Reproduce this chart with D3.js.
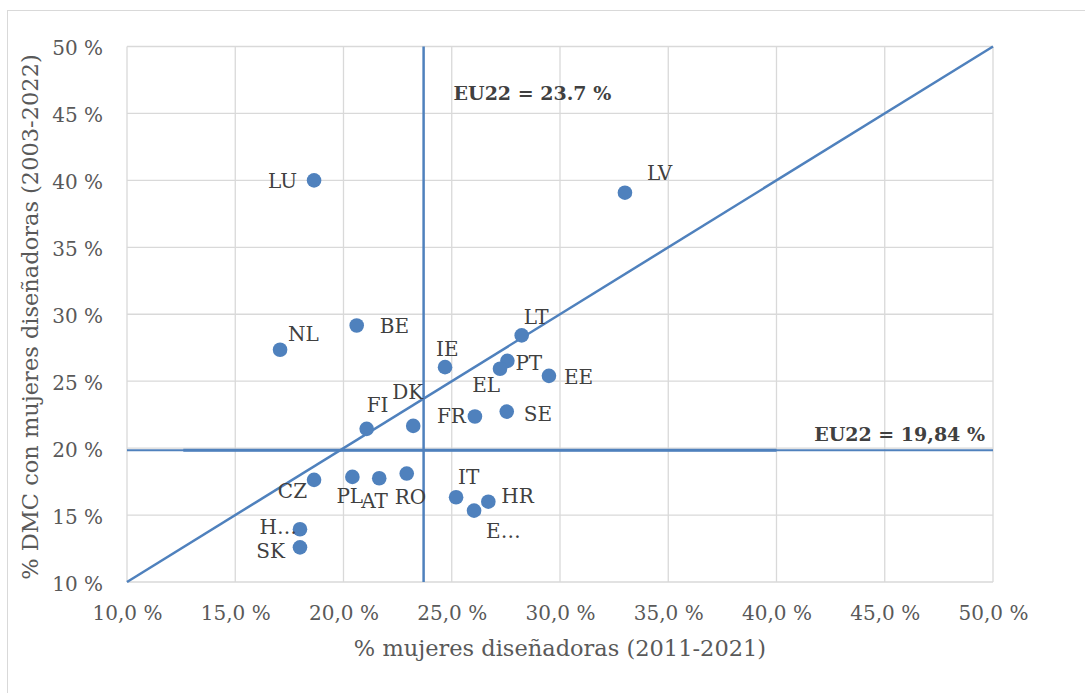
<!DOCTYPE html>
<html>
<head>
<meta charset="utf-8">
<script src="https://cdn.jsdelivr.net/npm/d3@7"></script>
<style>
  body { margin: 0; background: #fff; }
  text { font-family: "DejaVu Serif", serif; }
  .tick text { fill: #595959; font-size: 20px; }
  .lbl { fill: #404040; font-size: 20px; }
</style>
</head>
<body>
<svg id="chart" width="1085" height="693"></svg>
<script>
// data
var countries = ["LU", "LV", "NL", "BE", "IE", "FI", "DK", "FR", "LT", "PT", "EL", "EE", "SE",
                 "CZ", "PL", "AT", "RO", "IT", "HR", "E…", "H…", "SK"];
var womenDesigners = [18.64, 33.00, 17.07, 20.61, 24.69, 21.07, 23.22, 26.07, 28.23, 27.57, 27.23, 29.49, 27.54,
                      18.64, 20.41, 21.65, 22.92, 25.20, 26.69, 26.03, 17.99, 17.99];
var dmcWomen = [40.00, 39.08, 27.35, 29.16, 26.05, 21.44, 21.66, 22.36, 28.42, 26.52, 25.93, 25.40, 22.73,
                17.63, 17.85, 17.75, 18.10, 16.33, 16.00, 15.33, 13.94, 12.59];
var xTicks = [10, 15, 20, 25, 30, 35, 40, 45, 50];
var yTicks = [10, 15, 20, 25, 30, 35, 40, 45, 50];
var euX = 23.7;
var euY = 19.84;

// label placement (dx, dy, anchor) per country
var labelPos = {
    "LU": [-17, 8, "end"],   "LV": [22, -13, "start"], "NL": [8, -9, "start"],
    "BE": [23, 8, "start"],  "IE": [-9, -11, "start"], "FI": [0, -17, "start"],
    "DK": [-21, -27, "start"], "FR": [-9, 6, "end"],   "LT": [2, -11, "start"],
    "PT": [8, 9, "start"],   "EL": [0, 23, "end"],     "EE": [15, 8, "start"],
    "SE": [17, 9, "start"],  "CZ": [-7, 18, "end"],    "PL": [-16, 26, "start"],
    "AT": [-18, 30, "start"], "RO": [-12, 30, "start"], "IT": [2, -13, "start"],
    "HR": [13, 1, "start"],  "E…": [12, 27, "start"],  "H…": [-3, 5, "end"],
    "SK": [-15, 11, "end"]
};

var margin = {top: 46.5, right: 92, bottom: 111, left: 127};
var width = 1085 - margin.left - margin.right;
var height = 693 - margin.top - margin.bottom;
var blue = "#4f81bd";

var svg = d3.select("#chart");

// outer chart border
svg.append("rect")
    .attr("x", 7.5).attr("y", 10.5)
    .attr("width", 1090).attr("height", 700)
    .attr("fill", "none")
    .attr("stroke", "#d9d9d9");

var g = svg.append("g")
    .attr("transform", "translate(" + margin.left + "," + margin.top + ")");

var x = d3.scaleLinear().domain([10, 50]).range([0, width]);
var y = d3.scaleLinear().domain([10, 50]).range([height, 0]);

var fmtX = function(d) { return d3.format(".1f")(d).replace(".", ",") + " %"; };
var fmtY = function(d) { return d + " %"; };

// grid
g.selectAll(".gx").data(xTicks).enter().append("line")
    .attr("x1", function(d) { return x(d); }).attr("x2", function(d) { return x(d); })
    .attr("y1", 0).attr("y2", height)
    .attr("stroke", "#d9d9d9").attr("stroke-width", 1.3);
g.selectAll(".gy").data(yTicks).enter().append("line")
    .attr("x1", 0).attr("x2", width)
    .attr("y1", function(d) { return y(d); }).attr("y2", function(d) { return y(d); })
    .attr("stroke", "#d9d9d9").attr("stroke-width", 1.3);

// axes (labels only)
var xAxis = g.append("g")
    .attr("transform", "translate(0," + height + ")")
    .call(d3.axisBottom(x).tickValues(xTicks).tickFormat(fmtX).tickSize(0).tickPadding(24));
xAxis.select(".domain").remove();

var yAxis = g.append("g")
    .call(d3.axisLeft(y).tickValues(yTicks).tickFormat(fmtY).tickSize(0).tickPadding(24));
yAxis.select(".domain").remove();
yAxis.selectAll("text").attr("dy", "0.4em");

// reference lines
g.append("line")
    .attr("x1", x(10)).attr("x2", x(50))
    .attr("y1", y(euY)).attr("y2", y(euY))
    .attr("stroke", blue).attr("stroke-width", 2);
g.append("line")
    .attr("x1", x(12.6)).attr("x2", x(40))
    .attr("y1", y(euY)).attr("y2", y(euY))
    .attr("stroke", blue).attr("stroke-width", 3);
g.append("line")
    .attr("x1", x(euX)).attr("x2", x(euX))
    .attr("y1", y(50)).attr("y2", y(10))
    .attr("stroke", blue).attr("stroke-width", 2.5);
g.append("line")
    .attr("x1", x(10)).attr("y1", y(10))
    .attr("x2", x(50)).attr("y2", y(50))
    .attr("stroke", blue).attr("stroke-width", 2.5);

// annotations
g.append("text")
    .attr("x", x(euX) + 30).attr("y", 53.5)
    .attr("font-weight", "bold").attr("font-size", 19).attr("fill", "#404040")
    .text("EU22 = 23.7 %");
g.append("text")
    .attr("x", width - 8).attr("y", y(euY) - 9)
    .attr("text-anchor", "end")
    .attr("font-weight", "bold").attr("font-size", 19).attr("fill", "#404040")
    .text("EU22 = 19,84 %");

// points
countries.forEach(function(c, i) {
    g.append("circle")
        .attr("cx", x(womenDesigners[i]))
        .attr("cy", y(dmcWomen[i]))
        .attr("r", 7.3)
        .attr("fill", blue);
});

countries.forEach(function(c, i) {
    var p = labelPos[c];
    g.append("text")
        .attr("class", "lbl")
        .attr("x", x(womenDesigners[i]) + p[0])
        .attr("y", y(dmcWomen[i]) + p[1])
        .attr("text-anchor", p[2])
        .text(c);
});

// axis titles
svg.append("text")
    .attr("x", 560).attr("y", 656)
    .attr("text-anchor", "middle")
    .attr("font-size", 22.5).attr("fill", "#595959")
    .text("% mujeres diseñadoras (2011-2021)");

svg.append("text")
    .attr("transform", "translate(38,317) rotate(-90)")
    .attr("text-anchor", "middle")
    .attr("font-size", 22.5).attr("fill", "#595959")
    .text("% DMC con mujeres diseñadoras (2003-2022)");
</script>
</body>
</html>
